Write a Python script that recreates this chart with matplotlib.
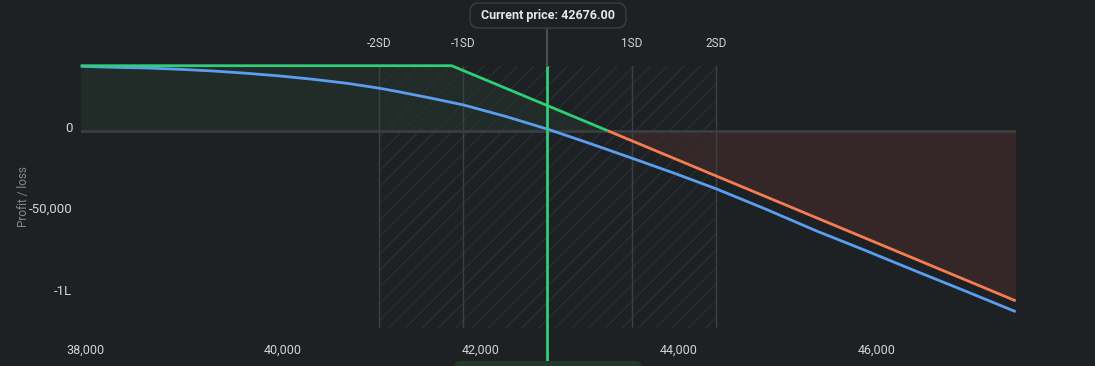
import matplotlib
matplotlib.use("Agg")
import matplotlib.pyplot as plt
from matplotlib.patches import FancyBboxPatch
from matplotlib.transforms import ScaledTranslation
from matplotlib.ticker import FuncFormatter

plt.rcParams['font.family'] = ['Roboto', 'DejaVu Sans']

# ---------------- data ----------------
current_price = 42676
sd_positions = [40970, 41823, 43529, 44382]
sd_labels = ['-2SD', '-1SD', '1SD', '2SD']

# expiry payoff (green above 0, orange below 0)
payoff_x = [37957, 41708, 43285, 47411]
payoff_y = [39800, 39800, 0, -104200]

# current (T+0) P&L curve
t0_x = [37957, 38283, 38627, 38961, 39295, 39639, 39973, 40306, 40650,
        40983, 41185, 41507, 41829, 42257, 42685, 43110, 43534, 43960,
        44387, 44889, 45391, 45896, 46402, 46906, 47411]
t0_y = [39440, 38820, 38400, 37600, 36560, 35150, 33500, 31480, 29030,
        25960, 23700, 19840, 15740, 8700, 800, -7900, -16900, -26060,
        -35700, -48160, -61240, -73450, -86000, -98290, -110840]

x_ticks = [38000, 40000, 42000, 44000, 46000]
y_ticks = [0, -50000, -100000]
y_tick_labels = ['0', '-50,000', '-1L']

x_min, x_max = 37957, 47411
y_min, y_max = -120820, 39804

# ---------------- style ----------------
BG = '#1e2124'
GREEN = '#2fcf78'
ORANGE = '#f47d52'
BLUE = '#5b9ef0'
GRID = '#3a3e43'
TXT = '#d2d4d6'

W, H = 1095, 366
fig = plt.figure(figsize=(W / 100, H / 100), dpi=100, facecolor=BG)
left_px, right_px, top_px, bot_px = 80.7, 1015.7, 65.7, 328.0
ax = fig.add_axes([left_px / W, (H - bot_px) / H,
                   (right_px - left_px) / W, (bot_px - top_px) / H])
ax.set_facecolor(BG)
ax.set_xlim(x_min, x_max)
ax.set_ylim(y_min, y_max)
for s in ax.spines.values():
    s.set_visible(False)

# fills
ax.fill_between(payoff_x, 0, payoff_y, where=[v >= 0 for v in payoff_y],
                interpolate=True, color='#212b27', lw=0, zorder=1)
ax.fill_between(payoff_x, 0, payoff_y, where=[v <= 0 for v in payoff_y],
                interpolate=True, color='#352627', lw=0, zorder=1)

# hatched SD band
plt.rcParams['hatch.linewidth'] = 0.8
ax.fill_between([sd_positions[0], sd_positions[-1]], y_min, y_max,
                facecolor='none', edgecolor='#2c3035', hatch='//', lw=0, zorder=2)

# SD lines
for xv in sd_positions:
    ax.plot([xv, xv], [y_min, y_max], color='#3c4046', lw=1.0, zorder=3)

# zero line
ax.plot([x_min, x_max], [0, 0], color=GRID, lw=2.0, zorder=3)

# lines
ax.plot(payoff_x[:3], payoff_y[:3], color=GREEN, lw=2.0, zorder=5,
        clip_on=False, solid_capstyle='butt')
ax.plot(payoff_x[2:], payoff_y[2:], color=ORANGE, lw=2.0, zorder=5,
        clip_on=False, solid_capstyle='butt')
ax.plot(t0_x, t0_y, color=BLUE, lw=2.0, zorder=4, clip_on=False,
        solid_capstyle='butt', solid_joinstyle='round')

# current price line
ax.axvline(current_price, ymin=0, ymax=1, color=GREEN, lw=2.0, zorder=6)
ax.plot([current_price, current_price], [y_min, y_min - (H - bot_px) / 1.633 * 1000],
        color=GREEN, lw=2.0, zorder=6, clip_on=False)
ax.plot([current_price, current_price],
        [y_max, y_max + (top_px - 28) / 1.633 * 1000],
        color='#4a4e54', lw=1.5, zorder=6, clip_on=False)

# SD labels
for xv, lab in zip(sd_positions, sd_labels):
    ax.text(xv, y_max + (top_px - 44) / 1.633 * 1000, lab, ha='center', va='center',
            color=TXT, fontsize=8.5, clip_on=False)

# ticks
ax.set_xticks(x_ticks)
ax.xaxis.set_major_formatter(FuncFormatter(lambda v, p: f"{int(v):,}"))
ax.set_yticks(y_ticks)
ax.set_yticklabels(y_tick_labels)
ax.tick_params(axis='both', length=0, colors=TXT, labelsize=9)
ax.tick_params(axis='x', pad=11)
ax.tick_params(axis='y', pad=6)
for lab in ax.get_yticklabels():
    lab.set_transform(lab.get_transform() + ScaledTranslation(0, 3 / 72, fig.dpi_scale_trans))
    lab.set_fontsize(9.5)

fig.text(23 / W, 1 - 197 / H, 'Profit / loss', rotation=90, ha='center', va='center',
         color='#85898d', fontsize=8.5)

# current price box
bx0, bx1, by0, by1 = 470, 626, 3, 28
fig.patches.append(FancyBboxPatch((bx0 / W, 1 - by1 / H), (bx1 - bx0) / W, (by1 - by0) / H,
                                  boxstyle='round,pad=0,rounding_size=0.008',
                                  transform=fig.transFigure, facecolor=BG,
                                  edgecolor='#3a3e43', lw=1.0, zorder=10,
                                  mutation_aspect=W / H))
fig.text((bx0 + bx1) / 2 / W, 1 - (by0 + by1) / 2 / H, f'Current price: {current_price:.2f}',
         ha='center', va='center', color='#e6e7e8', fontsize=9, fontweight='bold', zorder=11)

# bottom tooltip stub
fig.patches.append(FancyBboxPatch((454 / W, -0.05), (642 - 454) / W, 0.05 + 5 / H,
                                  boxstyle='round,pad=0,rounding_size=0.006',
                                  transform=fig.transFigure, facecolor='#22382b',
                                  edgecolor='none', zorder=9, mutation_aspect=W / H))

fig.savefig('out.png', dpi=100, facecolor=BG)
